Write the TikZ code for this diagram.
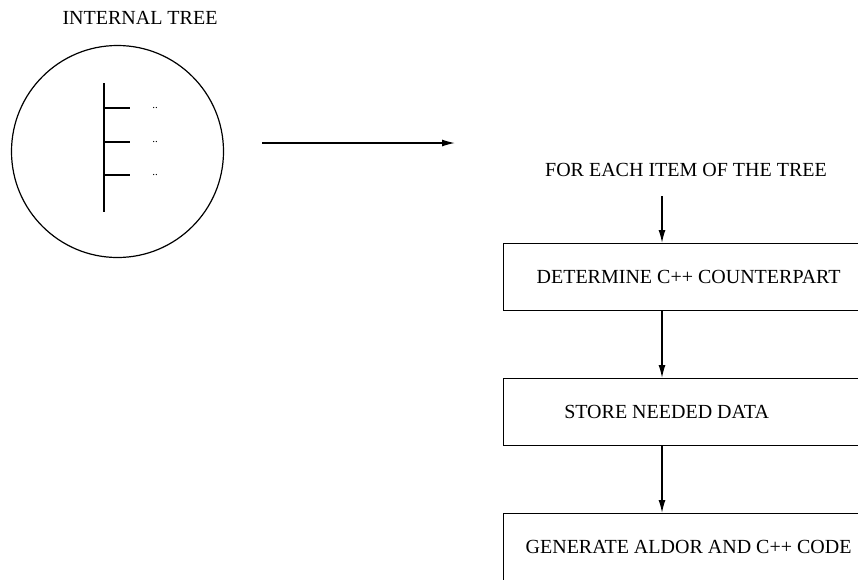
\documentclass[tikz,border=0pt]{standalone}
\usepackage{fontspec}
\setmainfont{Liberation Serif}
\usepackage{tikz}
\usetikzlibrary{arrows,arrows.meta,positioning,calc}

\begin{document}
\begin{tikzpicture}[x=1pt,y=-1pt]
\tikzstyle{fleche}=[->,>={Latex[length=13pt,width=7pt]},line width=1.4pt]
\tikzstyle{trait}=[line width=1.5pt]
\tikzstyle{texte}=[inner sep=0pt,font=\fontsize{20}{24}\selectfont]
\tikzstyle{boite}=[draw,line width=1.2pt,minimum width=370,minimum height=67,anchor=north west,inner sep=0pt,font=\fontsize{20}{24}\selectfont]
\def\ColonneBoites{503}
\def\AxeFleches{662}
\def\NiveauA{243}
\def\NiveauB{378}
\def\NiveauC{513}
\useasboundingbox (0,0) rectangle (858,579);
\clip (0,0) rectangle (858,579);
% arbre interne
\node[texte] (titre) at (140,18) {INTERNAL TREE};
\node[draw,circle,line width=1.2pt,minimum size=212,inner sep=0pt] (arbre) at (117.5,151.5) {};
\draw[trait] ($(arbre.center)+(-13.5,-68.5)$) -- ($(arbre.center)+(-13.5,60)$);
\foreach \y in {-43.5,-9.5,23.5} {
  \draw[trait] ($(arbre.center)+(-13.5,\y)$) -- ($(arbre.center)+(12.5,\y)$);
  \node[inner sep=0pt,font=\fontsize{11}{11}\selectfont] at ($(arbre.center)+(37.5,\y)$) {..};
}
\coordinate (departA) at (262,143);
\coordinate (arriveeA) at (455,143);
\draw[fleche] (departA)--(arriveeA);
% boucle sur les items
\node[texte] (item) at (686,170) {FOR EACH ITEM OF THE TREE};
\coordinate (departB) at (\AxeFleches,196);
\node[boite] (B1) at (\ColonneBoites,\NiveauA) {DETERMINE C++ COUNTERPART};
\node[boite] (B2) at (\ColonneBoites,\NiveauB) {};
\node[texte] (B2t) at ([xshift=-22pt]B2.center) {STORE NEEDED DATA};
\node[boite] (B3) at (\ColonneBoites,\NiveauC) {GENERATE ALDOR AND C++ CODE};
\draw[fleche] (departB)--(departB|-B1.north);
\draw[fleche] (\AxeFleches,\NiveauA+67)--(\AxeFleches,\NiveauB);
\draw[fleche] (B2.south-|departB)--(B3.north-|departB);
\end{tikzpicture}
\end{document}
